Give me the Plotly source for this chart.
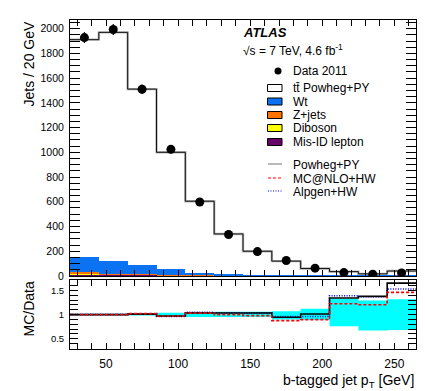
import plotly.graph_objects as go

# b-tagged jet pT bins (GeV)
edges = [25, 45, 65, 85, 105, 125, 145, 165, 185, 205, 225, 245, 265]
centers = [35, 55, 75, 95, 115, 135, 155, 175, 195, 215, 235, 255]

data_2011 = [1928, 1993, 1510, 1024, 598, 335, 197, 125, 63, 27, 14, 24]
data_err = [44, 45, 39, 32, 24, 18, 14, 11, 8, 5, 4, 5]

ttbar = [1760, 1847, 1422, 945, 578, 329, 194, 117, 58, 34, 16, 39]
wt = [118, 108, 76, 46, 21.5, 7.7, 4.2, 1.9, 1.3, 0.7, 0.6, 0.6]
zjets = [17, 4.5, 3, 1.5, 1, 0.5, 0.3, 0.2, 0.1, 0.1, 0.1, 0.1]
diboson = [5, 2.5, 2, 1.5, 1, 0.6, 0.4, 0.3, 0.2, 0.1, 0.1, 0.1]
misid = [11, 8, 8, 6, 3, 2, 1, 0.6, 0.4, 0.3, 0.2, 0.2]

ratio_powheg = [1.00, 1.00, 1.01, 0.97, 1.035, 1.035, 1.035, 0.946, 1.014, 1.343, 1.377, 1.65]
ratio_mcnlo = [1.00, 1.00, 1.02, 0.97, 1.03, 1.00, 0.98, 0.877, 0.897, 1.226, 1.205, 1.46]
ratio_alpgen = [1.00, 1.00, 1.02, 0.96, 1.05, 1.04, 1.04, 0.96, 0.96, 1.39, 1.37, 1.53]
unc_lo = [0.98, 0.98, 0.98, 0.96, 0.95, 0.95, 0.95, 0.90, 0.89, 0.76, 0.67, 0.68]
unc_hi = [1.02, 1.02, 1.02, 1.04, 1.05, 1.06, 1.06, 1.07, 1.12, 1.33, 1.29, 1.32]

total = [t + w + z + d + m for t, w, z, d, m in zip(ttbar, wt, zjets, diboson, misid)]

FONT = "Liberation Sans, Arial, Helvetica, sans-serif"
W, H = 425, 391
L, R, T, B = 62, 17, 12, 50


def step(vals):
    return list(vals) + [vals[-1]]


def px(x):
    return (x - L) / (W - L - R)


def py(y):
    return (H - B - y) / (H - T - B)


fig = go.Figure()

# background stack
for name, vals, col in [("Mis-ID lepton", misid, "#660066"),
                        ("Diboson", diboson, "#ffff00"),
                        ("Z+jets", zjets, "#ff7300"),
                        ("Wt", wt, "#0b72f2")]:
    fig.add_trace(go.Bar(x=centers, y=vals, width=20, name=name,
                         marker=dict(color=col, line=dict(width=0)),
                         xaxis="x", yaxis="y"))

fig.add_trace(go.Scatter(x=edges, y=step(total), mode="lines", line_shape="hv",
                         line=dict(color="#b4b4b4", width=2.4), xaxis="x", yaxis="y"))
fig.add_trace(go.Scatter(x=edges, y=step(total), mode="lines", line_shape="hv",
                         line=dict(color="black", width=0.9), xaxis="x", yaxis="y"))
fig.add_trace(go.Scatter(x=centers, y=data_2011, mode="markers",
                         marker=dict(color="black", size=9),
                         error_y=dict(type="data", array=data_err, width=0,
                                      thickness=1.2, color="black"),
                         xaxis="x", yaxis="y"))

# ratio panel
fig.add_trace(go.Scatter(x=edges, y=step(unc_lo), mode="lines", line_shape="hv",
                         line=dict(width=0, color="rgba(0,0,0,0)"), xaxis="x2", yaxis="y2"))
fig.add_trace(go.Scatter(x=edges, y=step(unc_hi), mode="lines", line_shape="hv",
                         line=dict(width=0, color="rgba(0,0,0,0)"), fill="tonexty",
                         fillcolor="#00ffff", xaxis="x2", yaxis="y2"))
fig.add_trace(go.Scatter(x=edges, y=step(ratio_alpgen), mode="lines", line_shape="hv",
                         line=dict(color="#0000ff", width=1.5, dash="1px,1.5px"),
                         xaxis="x2", yaxis="y2"))
fig.add_trace(go.Scatter(x=edges, y=step(ratio_powheg), mode="lines", line_shape="hv",
                         line=dict(color="black", width=1.6), xaxis="x2", yaxis="y2"))
fig.add_trace(go.Scatter(x=edges, y=step(ratio_mcnlo), mode="lines", line_shape="hv",
                         line=dict(color="#ff0000", width=1.6, dash="3px,2px"),
                         xaxis="x2", yaxis="y2"))

# empty traces so the tick-only mirror axes get drawn
for xa, ya in [("x3", "y"), ("x", "y3"), ("x4", "y2"), ("x2", "y4")]:
    fig.add_trace(go.Scatter(x=[], y=[], mode="markers", xaxis=xa, yaxis=ya,
                             hoverinfo="skip"))

axis_common = dict(showline=True, linecolor="black", linewidth=1, mirror="allticks",
                   ticks="inside", tickcolor="black", showgrid=False, zeroline=False,
                   tickfont=dict(family=FONT, color="black"))
# tick-only axes to mirror the minor ticks on top / right
mirror_common = dict(showline=False, ticks="inside", tickcolor="black", showgrid=False,
                     zeroline=False, showticklabels=False)

fig.update_layout(
    width=W, height=H, margin=dict(l=L, r=R, t=T, b=B),
    paper_bgcolor="white", plot_bgcolor="white",
    barmode="stack", bargap=0, showlegend=False,
    font=dict(family=FONT, color="black"),
    xaxis=dict(axis_common, domain=[0, 1], anchor="y", range=[25, 265],
               dtick=50, tick0=0, ticklen=6, showticklabels=False,
               minor=dict(dtick=10, ticks="inside", ticklen=3, tickcolor="black")),
    yaxis=dict(axis_common, domain=[0.222, 1], anchor="x", range=[0, 2070],
               dtick=200, ticklen=10, ticklabelstandoff=3,
               tickfont=dict(family=FONT, size=10.5, color="black"),
               minor=dict(dtick=50, ticks="inside", ticklen=5, tickcolor="black")),
    xaxis2=dict(axis_common, domain=[0, 1], anchor="y2", matches="x", range=[25, 265],
                dtick=50, tick0=0, ticklen=6, ticklabelstandoff=4,
                tickfont=dict(family=FONT, size=12, color="black"),
                minor=dict(dtick=10, ticks="inside", ticklen=3, tickcolor="black")),
    yaxis2=dict(axis_common, domain=[0, 0.209], anchor="x2", range=[0.29, 1.71],
                dtick=0.5, tick0=0, ticklen=8, ticklabelstandoff=3,
                tickfont=dict(family=FONT, size=9.5, color="black"),
                minor=dict(dtick=0.1, ticks="inside", ticklen=4, tickcolor="black")),
    xaxis3=dict(mirror_common, overlaying="x", anchor="y", side="top", range=[25, 265],
                dtick=50, tick0=0, ticklen=6,
                minor=dict(dtick=10, ticks="inside", ticklen=3, tickcolor="black")),
    yaxis3=dict(mirror_common, overlaying="y", anchor="x", side="right", range=[0, 2070],
                dtick=200, ticklen=10,
                minor=dict(dtick=50, ticks="inside", ticklen=5, tickcolor="black")),
    xaxis4=dict(mirror_common, overlaying="x2", anchor="y2", side="top", range=[25, 265],
                dtick=50, tick0=0, ticklen=6,
                minor=dict(dtick=10, ticks="inside", ticklen=3, tickcolor="black")),
    yaxis4=dict(mirror_common, overlaying="y2", anchor="x2", side="right",
                range=[0.29, 1.71], dtick=0.5, tick0=0, ticklen=8,
                minor=dict(dtick=0.1, ticks="inside", ticklen=4, tickcolor="black")),
)

ann = [
    dict(text="<b><i>ATLAS</i></b>", x=px(233), y=py(25), size=13),
    dict(text="√s = 7 TeV, 4.6 fb<sup>-1</sup>", x=px(233), y=py(42), size=12),
    dict(text="Data 2011", x=px(283), y=py(63), size=12),
    dict(text="tt\u0304 Powheg+PY", x=px(283), y=py(80), size=12),
    dict(text="Wt", x=px(283), y=py(93.5), size=12),
    dict(text="Z+jets", x=px(283), y=py(107), size=12),
    dict(text="Diboson", x=px(283), y=py(120), size=12),
    dict(text="Mis-ID lepton", x=px(283), y=py(134), size=12),
    dict(text="Powheg+PY", x=px(283), y=py(157), size=12),
    dict(text="MC@NLO+HW", x=px(283), y=py(171), size=12),
    dict(text="Alpgen+HW", x=px(283), y=py(184), size=12),
]
for a in ann:
    fig.add_annotation(text=a["text"], x=a["x"], y=a["y"], xref="paper", yref="paper",
                       xanchor="left", yanchor="middle", showarrow=False,
                       font=dict(family=FONT, size=a["size"], color="black"))

# axis titles
fig.add_annotation(text="Jets / 20 GeV", x=px(10), y=py(12), xref="paper", yref="paper",
                   xanchor="left", yanchor="top", textangle=-90, showarrow=False,
                   font=dict(family=FONT, size=14, color="black"))
fig.add_annotation(text="MC/Data", x=px(10), y=py(272), xref="paper", yref="paper",
                   xanchor="left", yanchor="top", textangle=-90, showarrow=False,
                   font=dict(family=FONT, size=14, color="black"))
fig.add_annotation(text="b-tagged jet p<sub>T</sub> [GeV]", x=1, y=py(362), xref="paper",
                   yref="paper", xanchor="right", yanchor="top", showarrow=False,
                   font=dict(family=FONT, size=14, color="black"))

# legend symbols
fig.add_shape(type="circle", xref="paper", yref="paper", x0=px(266.5), x1=px(273.5),
              y0=py(66.5), y1=py(59.5), fillcolor="black", line=dict(color="black", width=0))
for yc, col in [(80, "white"), (93.5, "#0b72f2"), (107, "#ff7300"), (120, "#ffff00"),
                (134, "#660066")]:
    fig.add_shape(type="rect", xref="paper", yref="paper", x0=px(259.5), x1=px(274),
                  y0=py(yc + 3.5), y1=py(yc - 3.5), fillcolor=col,
                  line=dict(color="black", width=1))
for yc, col, dash, wd in [(156, "#a0a0a0", "solid", 1.5), (170, "#ff0000", "3px,2px", 1.2),
                          (183, "#0000ff", "1px,1.5px", 1.2)]:
    fig.add_shape(type="line", xref="paper", yref="paper", x0=px(260), x1=px(274),
                  y0=py(yc), y1=py(yc), line=dict(color=col, width=wd, dash=dash))

fig.write_html("out.html")
